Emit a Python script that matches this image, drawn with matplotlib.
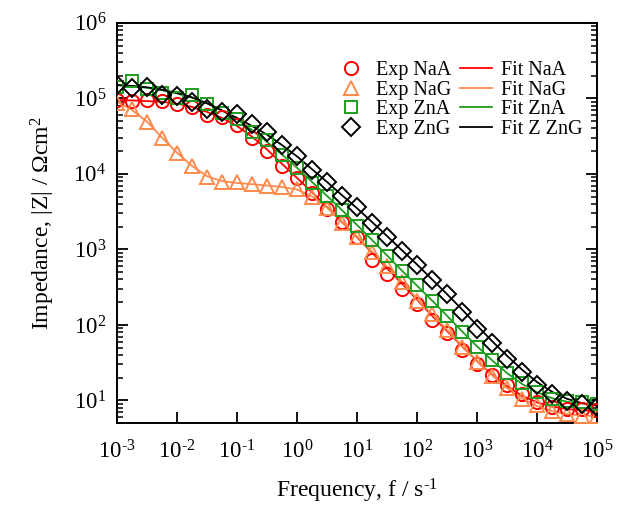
import matplotlib
matplotlib.use("Agg")
from matplotlib import pyplot as plt
from matplotlib.ticker import LogLocator, NullLocator, FuncFormatter
import numpy as np

plt.rcParams["font.family"] = ["Liberation Serif", "DejaVu Serif"]
plt.rcParams["mathtext.fontset"] = "custom"
plt.rcParams["mathtext.rm"] = "Liberation Serif"
plt.rcParams["mathtext.it"] = "Liberation Serif:italic"

# frequencies: 4 points per decade, 1e-3 ... 1e5 Hz
freq_exp = [10 ** (-3 + k / 4) for k in range(33)]

exp_NaA = [9.4e4, 9.2e4, 9.4e4, 9.2e4, 8.3e4, 7.8e4, 6.1e4, 5.6e4, 4.4e4, 3.0e4,
           2.0e4, 1.29e4, 8.8e3, 5.6e3, 3.4e3, 2.3e3, 1.48e3, 7.2e2, 4.7e2, 3.0e2,
           1.92e2, 1.16e2, 77, 46, 30.7, 21.4, 15.8, 12.0, 9.5, 8.3, 7.6, 7.6, 7.4]
exp_NaG = [8.8e4, 7.2e4, 4.8e4, 3.0e4, 1.89e4, 1.26e4, 9.2e3, 7.9e3, 7.7e3, 7.4e3,
           6.9e3, 6.8e3, 6.3e3, 4.9e3, 3.5e3, 2.26e3, 1.45e3, 9.3e2, 6.0e2, 3.7e2,
           2.1e2, 1.38e2, 85, 51, 32.4, 20.9, 14.7, 10.5, 8.6, 7.2, 6.7, 6.3, 6.3]
exp_ZnA = [1.4e5, 1.7e5, 1.35e5, 1.18e5, 1.02e5, 1.12e5, 8.3e4, 6.4e4, 5.4e4, 3.6e4,
           2.8e4, 1.78e4, 1.2e4, 7.6e3, 5.1e3, 3.3e3, 2.04e3, 1.33e3, 8.1e2, 5.2e2,
           3.4e2, 2.09e2, 1.3e2, 80.7, 51, 34, 23, 17, 12.9, 10.5, 9.8, 9.5, 8.9]
exp_ZnG = [1.52e5, 1.38e5, 1.42e5, 1.12e5, 1.09e5, 8.9e4, 7.2e4, 6.7e4, 6.3e4, 4.6e4,
           3.55e4, 2.43e4, 1.7e4, 1.13e4, 7.9e3, 5.1e3, 3.6e3, 2.26e3, 1.45e3, 9.6e2,
           6.2e2, 3.9e2, 2.57e2, 149, 89.6, 57.7, 35.8, 23.8, 15.8, 12.3, 9.8, 8.85, 8.3]

# fitted curves at the same frequencies
fit_NaA = [9.5e4, 9.4e4, 9.2e4, 9.0e4, 8.5e4, 7.7e4, 6.6e4, 5.5e4, 4.3e4, 3.1e4,
           2.1e4, 1.35e4, 8.8e3, 5.7e3, 3.6e3, 2.3e3, 1.45e3, 9.0e2, 5.6e2, 3.5e2,
           2.15e2, 1.32e2, 83, 52, 33, 22, 15.5, 11.5, 9.4, 8.3, 7.7, 7.4, 7.3]
fit_NaG = [9.0e4, 7.0e4, 4.9e4, 3.0e4, 1.9e4, 1.27e4, 9.3e3, 8.0e3, 7.6e3, 7.3e3,
           7.0e3, 6.7e3, 6.2e3, 5.0e3, 3.6e3, 2.3e3, 1.48e3, 9.3e2, 5.9e2, 3.7e2,
           2.2e2, 1.38e2, 86, 53, 33, 21.5, 14.5, 10.6, 8.4, 7.2, 6.6, 6.3, 6.2]
fit_ZnA = [1.5e5, 1.45e5, 1.38e5, 1.28e5, 1.16e5, 1.02e5, 8.6e4, 6.9e4, 5.3e4, 3.8e4,
           2.65e4, 1.8e4, 1.2e4, 7.8e3, 5.1e3, 3.3e3, 2.1e3, 1.33e3, 8.3e2, 5.2e2,
           3.3e2, 2.1e2, 1.32e2, 82, 52, 34, 23, 16.5, 12.8, 10.7, 9.6, 9.1, 8.9]
fit_ZnG = [1.5e5, 1.46e5, 1.4e5, 1.3e5, 1.18e5, 1.03e5, 8.6e4, 6.9e4, 5.5e4, 4.3e4,
           3.3e4, 2.4e4, 1.7e4, 1.15e4, 7.8e3, 5.2e3, 3.5e3, 2.3e3, 1.5e3, 9.7e2,
           6.3e2, 4.0e2, 2.55e2, 1.6e2, 98, 61, 39, 25.5, 17.5, 13, 10.5, 9.2, 8.5]

exp_labels = ["Exp NaA", "Exp NaG", "Exp ZnA", "Exp ZnG"]
fit_labels = ["Fit NaA", "Fit NaG", "Fit ZnA", "Fit Z ZnG"]

colors = ["#ff0000", "#ff8a4c", "#1e9e1e", "#000000"]
markers = ["o", "^", "s", "D"]
msizes = [9.5, 10.5, 9, 9]


def pow10(v, pos):
    e = int(round(np.log10(v)))
    # hyphen-style minus like the original
    s = str(e).replace("-", "\\text{-}")
    return "$\\mathdefault{10^{%s}}$" % s


fig = plt.figure(figsize=(6.2, 5.08), dpi=100)
ax = fig.add_axes([0.189, 0.167, 0.774, 0.788])

exp_sets = [exp_NaA, exp_NaG, exp_ZnA, exp_ZnG]
fit_sets = [fit_NaA, fit_NaG, fit_ZnA, fit_ZnG]

exp_h = []
fit_h = []
for i in range(4):
    l, = ax.plot(freq_exp, fit_sets[i], color=colors[i], lw=1.3, zorder=2)
    fit_h.append(l)
for i in range(4):
    m, = ax.plot(freq_exp, exp_sets[i], ls="none", marker=markers[i], ms=msizes[i],
                 mfc="none", mec=colors[i], mew=1.4, zorder=3)
    exp_h.append(m)

ax.set_xscale("log")
ax.set_yscale("log")
ax.set_xlim(1e-3, 1e5)
ax.set_ylim(5, 1e6)

ax.xaxis.set_major_locator(LogLocator(base=10, numticks=20))
ax.xaxis.set_minor_locator(NullLocator())
ax.yaxis.set_major_locator(LogLocator(base=10, numticks=20))
ax.yaxis.set_minor_locator(LogLocator(base=10, subs=np.arange(2, 10), numticks=20))
ax.xaxis.set_major_formatter(FuncFormatter(pow10))
ax.yaxis.set_major_formatter(FuncFormatter(pow10))

ax.tick_params(axis="both", which="both", direction="in", top=False, right=True)
ax.tick_params(axis="both", which="major", length=8, width=1.3, labelsize=16.5)
ax.tick_params(axis="x", which="major", pad=12)
ax.tick_params(axis="y", which="major", pad=8)
ax.tick_params(axis="both", which="minor", length=4.5, width=1.1)
for s in ax.spines.values():
    s.set_linewidth(1.4)

ax.set_xlabel("Frequency, f / s$^{\\text{-}1}$", fontsize=17, labelpad=10)
ax.set_ylabel("Impedance, |Z| / \u03a9cm$^{2}$", fontsize=17, labelpad=12)

ax.legend(exp_h + fit_h, exp_labels + fit_labels, ncol=2, frameon=False,
          loc="upper right", bbox_to_anchor=(0.995, 0.935), fontsize=14.5,
          handlelength=1.6, handletextpad=0.45, columnspacing=0.4,
          labelspacing=0.02, borderaxespad=0.2)

plt.savefig("out.png", dpi=100)
plt.close()
